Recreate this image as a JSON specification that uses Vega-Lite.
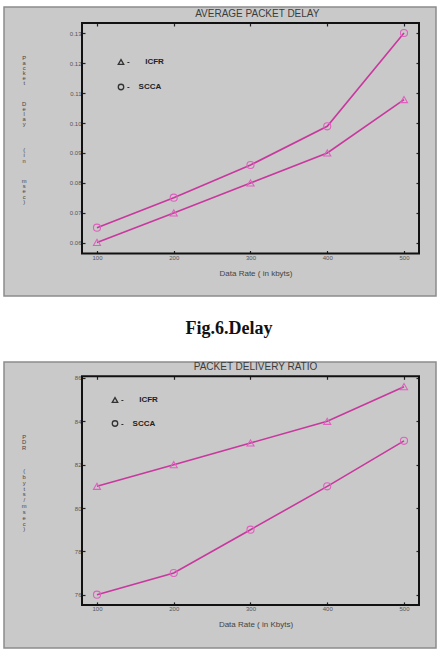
{
  "$schema": "https://vega.github.io/schema/vega-lite/v6.json",
  "background": "white",
  "padding": {"left": 3, "top": 6, "right": 0, "bottom": 0},
  "spacing": 0,
  "resolve": {"scale": {"shape": "independent"}, "legend": {"shape": "independent"}},
  "config": {
    "view": {"stroke": null},
    "font": "Liberation Sans",
    "axis": {"labelFont": "Liberation Sans", "labelFontSize": 6, "labelColor": "#555", "grid": false, "domain": false, "tickColor": "#222", "tickWidth": 1.2, "titleFont": "Liberation Sans", "titleFontWeight": "normal"}
  },
  "datasets": {
    "delay": [
      {"rate": 100, "series": "ICFR", "value": 0.0602},
      {"rate": 200, "series": "ICFR", "value": 0.070},
      {"rate": 300, "series": "ICFR", "value": 0.080},
      {"rate": 400, "series": "ICFR", "value": 0.090},
      {"rate": 500, "series": "ICFR", "value": 0.1078},
      {"rate": 100, "series": "SCCA", "value": 0.0651},
      {"rate": 200, "series": "SCCA", "value": 0.0751},
      {"rate": 300, "series": "SCCA", "value": 0.086},
      {"rate": 400, "series": "SCCA", "value": 0.0989},
      {"rate": 500, "series": "SCCA", "value": 0.130}
    ],
    "pdr": [
      {"rate": 100, "series": "ICFR", "value": 81.0},
      {"rate": 200, "series": "ICFR", "value": 82.0},
      {"rate": 300, "series": "ICFR", "value": 83.0},
      {"rate": 400, "series": "ICFR", "value": 84.0},
      {"rate": 500, "series": "ICFR", "value": 85.6},
      {"rate": 100, "series": "SCCA", "value": 76.0},
      {"rate": 200, "series": "SCCA", "value": 77.0},
      {"rate": 300, "series": "SCCA", "value": 79.0},
      {"rate": 400, "series": "SCCA", "value": 81.0},
      {"rate": 500, "series": "SCCA", "value": 83.1}
    ]
  },
  "vconcat": [
    {
      "width": 432,
      "height": 289,
      "view": {"fill": "#c9c9c9", "stroke": "#8c8c8c", "strokeWidth": 1.5},
      "resolve": {"axis": {"x": "independent", "y": "independent"}},
      "layer": [
        {
          "data": {"values": [{"frame": "box"}]},
          "mark": {"type": "rect", "filled": false, "stroke": "#111", "strokeWidth": 2},
          "encoding": {
            "x": {"datum": 80.46, "type": "quantitative", "scale": {"domain": [-21.17, 541.7], "nice": false, "zero": false}, "axis": null},
            "x2": {"datum": 519.55},
            "y": {"datum": 0.13334, "type": "quantitative", "scale": {"domain": [0.04233, 0.13867], "nice": false, "zero": false}, "axis": null},
            "y2": {"datum": 0.0565}
          }
        },
        {
          "data": {"name": "delay"},
          "mark": {"type": "line", "color": "#c8389e", "strokeWidth": 1.6},
          "encoding": {
            "x": {"field": "rate", "type": "quantitative", "scale": {"domain": [-21.17, 541.7], "nice": false, "zero": false},
              "axis": {"orient": "bottom", "offset": -42.5, "values": [100, 200, 300, 400, 500], "format": "d", "tickSize": -3, "labelPadding": 4,
                "title": "Data Rate ( in kbyts)", "titleFontSize": 8, "titleColor": "#444", "titleX": 251.5, "titleY": 20, "titleAlign": "center", "titleBaseline": "middle"}},
            "y": {"field": "value", "type": "quantitative", "scale": {"domain": [0.04233, 0.13867], "nice": false, "zero": false},
              "axis": {"orient": "left", "offset": -78, "values": [0.06, 0.07, 0.08, 0.09, 0.10, 0.11, 0.12, 0.13], "format": ".2f", "tickSize": -3, "labelPadding": 4,
                "title": ["P", "a", "c", "k", "e", "t", "\u2800", "\u2800", "\u2800", "D", "e", "l", "a", "y", "\u2800", "\u2800", "\u2800", "\u2800", "(", "i", "n", "\u2800", "\u2800", "\u2800", "m", "s", "e", "c", ")"],
                "titleAngle": 0, "titleFontSize": 5.8, "titleLineHeight": 5.15, "titleColor": "#444", "titleX": -58.3, "titleY": 47, "titleAlign": "center", "titleBaseline": "top"}},
            "detail": {"field": "series"}
          }
        },
        {
          "data": {"name": "delay"},
          "mark": {"type": "point", "filled": false, "color": "#e060c0", "size": 50, "strokeWidth": 1.1, "opacity": 1},
          "encoding": {
            "x": {"field": "rate", "type": "quantitative", "scale": {"domain": [-21.17, 541.7], "nice": false, "zero": false},
              "axis": {"orient": "top", "offset": -16, "values": [100, 200, 300, 400, 500], "labels": false, "tickSize": -3,
                "title": "AVERAGE PACKET DELAY", "titleFontSize": 10, "titleColor": "#3c3c3c", "titleX": 252.8, "titleY": -9.3, "titleAlign": "center", "titleBaseline": "middle"}},
            "y": {"field": "value", "type": "quantitative", "scale": {"domain": [0.04233, 0.13867], "nice": false, "zero": false},
              "axis": {"orient": "right", "offset": -17, "values": [0.06, 0.07, 0.08, 0.09, 0.10, 0.11, 0.12, 0.13], "labels": false, "tickSize": -3, "title": null}},
            "shape": {"field": "series", "type": "nominal", "scale": {"domain": ["ICFR", "SCCA"], "range": ["triangle-up", "circle"]},
              "legend": {"orient": "none", "legendX": 113, "legendY": 51, "title": null, "padding": 0, "symbolStrokeColor": "#333", "symbolStrokeWidth": 1.3, "symbolSize": 30, "symbolFillColor": "transparent",
                "labelFontSize": 8, "labelFontWeight": "bold", "labelColor": "#222", "labelFont": "Liberation Sans", "rowPadding": 14, "labelOffset": 2,
                "labelExpr": "datum.label == 'ICFR' ? '-\u00a0\u00a0\u00a0\u00a0\u00a0\u00a0\u00a0ICFR' : '-\u00a0\u00a0\u00a0\u00a0SCCA'"}}
          }
        }
      ]
    },
    {
      "width": 432,
      "height": 63,
      "data": {"values": [{"caption": "Fig.6.Delay"}]},
      "mark": {"type": "text", "font": "Liberation Serif", "fontSize": 18, "fontWeight": "bold", "color": "#111", "dx": 9, "dy": 0.5, "baseline": "middle"},
      "encoding": {"text": {"field": "caption"}}
    },
    {
      "width": 432,
      "height": 286,
      "view": {"fill": "#c9c9c9", "stroke": "#8c8c8c", "strokeWidth": 1.5},
      "resolve": {"axis": {"x": "independent", "y": "independent"}},
      "layer": [
        {
          "data": {"values": [{"frame": "box"}]},
          "mark": {"type": "rect", "filled": false, "stroke": "#111", "strokeWidth": 2},
          "encoding": {
            "x": {"datum": 80.46, "type": "quantitative", "scale": {"domain": [-21.17, 541.7], "nice": false, "zero": false}, "axis": null},
            "x2": {"datum": 519.55},
            "y": {"datum": 86.078, "type": "quantitative", "scale": {"domain": [73.54, 86.738], "nice": false, "zero": false}, "axis": null},
            "y2": {"datum": 75.53}
          }
        },
        {
          "data": {"name": "pdr"},
          "mark": {"type": "line", "color": "#c8389e", "strokeWidth": 1.6},
          "encoding": {
            "x": {"field": "rate", "type": "quantitative", "scale": {"domain": [-21.17, 541.7], "nice": false, "zero": false},
              "axis": {"orient": "bottom", "offset": -43.1, "values": [100, 200, 300, 400, 500], "format": "d", "tickSize": -3, "labelPadding": 4,
                "title": "Data Rate ( in Kbyts)", "titleFontSize": 8, "titleColor": "#444", "titleX": 251.5, "titleY": 20, "titleAlign": "center", "titleBaseline": "middle"}},
            "y": {"field": "value", "type": "quantitative", "scale": {"domain": [73.54, 86.738], "nice": false, "zero": false},
              "axis": {"orient": "left", "offset": -78, "values": [76, 78, 80, 82, 84, 86], "format": "d", "tickSize": -3, "labelPadding": 4,
                "title": ["P", "D", "R", "\u2800", "\u2800", "\u2800", "(", "b", "y", "t", "s", "/", "m", "s", "e", "c", ")"],
                "titleAngle": 0, "titleFontSize": 5.8, "titleLineHeight": 5.8, "titleColor": "#444", "titleX": -58.3, "titleY": 71, "titleAlign": "center", "titleBaseline": "top"}},
            "detail": {"field": "series"}
          }
        },
        {
          "data": {"name": "pdr"},
          "mark": {"type": "point", "filled": false, "color": "#e060c0", "size": 50, "strokeWidth": 1.1, "opacity": 1},
          "encoding": {
            "x": {"field": "rate", "type": "quantitative", "scale": {"domain": [-21.17, 541.7], "nice": false, "zero": false},
              "axis": {"orient": "top", "offset": -14.3, "values": [100, 200, 300, 400, 500], "labels": false, "tickSize": -3,
                "title": "PACKET DELIVERY RATIO", "titleFontSize": 10, "titleColor": "#3c3c3c", "titleX": 251, "titleY": -9.8, "titleAlign": "center", "titleBaseline": "middle"}},
            "y": {"field": "value", "type": "quantitative", "scale": {"domain": [73.54, 86.738], "nice": false, "zero": false},
              "axis": {"orient": "right", "offset": -17, "values": [76, 78, 80, 82, 84, 86], "labels": false, "tickSize": -3, "title": null}},
            "shape": {"field": "series", "type": "nominal", "scale": {"domain": ["ICFR", "SCCA"], "range": ["triangle-up", "circle"]},
              "legend": {"orient": "none", "legendX": 107, "legendY": 34, "title": null, "padding": 0, "symbolStrokeColor": "#333", "symbolStrokeWidth": 1.3, "symbolSize": 30, "symbolFillColor": "transparent",
                "labelFontSize": 8, "labelFontWeight": "bold", "labelColor": "#222", "labelFont": "Liberation Sans", "rowPadding": 12.5, "labelOffset": 2,
                "labelExpr": "datum.label == 'ICFR' ? '-\u00a0\u00a0\u00a0\u00a0\u00a0\u00a0\u00a0ICFR' : '-\u00a0\u00a0\u00a0\u00a0SCCA'"}}
          }
        }
      ]
    }
  ]
}
